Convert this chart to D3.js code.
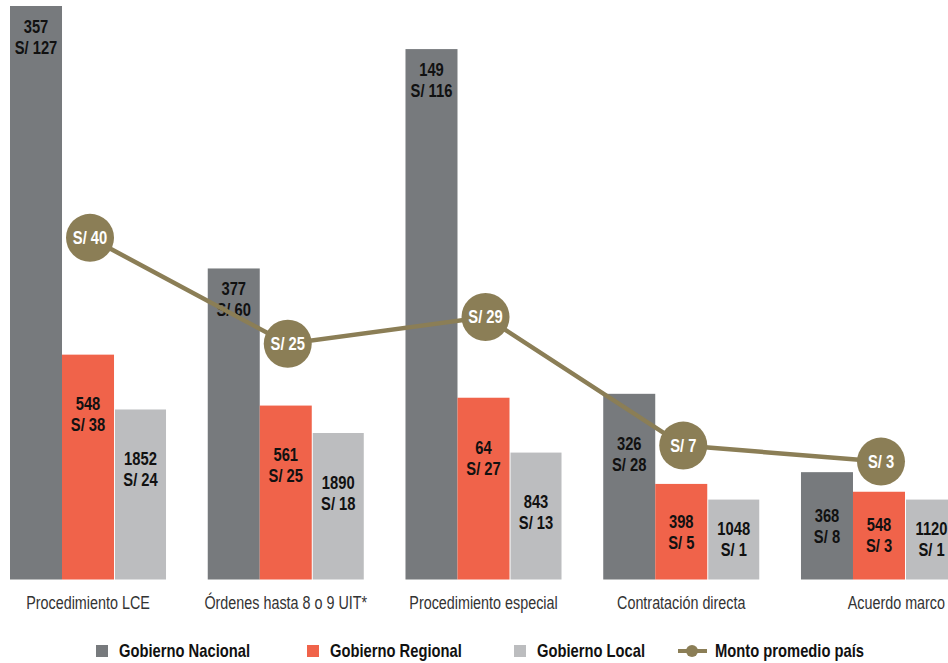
<!DOCTYPE html>
<html>
<head>
<meta charset="utf-8">
<script src="https://cdn.jsdelivr.net/npm/d3@7"></script>
<style>
  html, body { margin: 0; padding: 0; background: #fff; }
  svg { display: block; }
  text { font-family: "Liberation Sans", Arial, Helvetica, sans-serif; }
</style>
</head>
<body>
<svg id="chart" width="948" height="663"></svg>
<script>
// Procurement types (one group of bars each)
const categories = ["Procedimiento LCE", "Órdenes hasta 8 o 9 UIT*", "Procedimiento especial", "Contratación directa", "Acuerdo marco"];

// Government levels
const seriesNames = ["Gobierno Nacional", "Gobierno Regional", "Gobierno Local"];

// Number of entities per level and category
const countNacional = [357, 377, 149, 326, 368];
const countRegional = [548, 561, 64, 398, 548];
const countLocal    = [1852, 1890, 843, 1048, 1120];

// Average amount (S/) per level and category
const montoNacional = [127, 60, 116, 28, 8];
const montoRegional = [38, 25, 27, 5, 3];
const montoLocal    = [24, 18, 13, 1, 1];

// National average amount per category
const montoPais = [40, 25, 29, 7, 3];

const lineName = "Monto promedio país";

const colors = ["#777a7d", "#f0634a", "#bcbdbf"];
const lineColor = "#8b7e56";

const W = 948, H = 663;
const NARROW = 0.82;   // horizontal squeeze giving a condensed face
const svg = d3.select("#chart");

// condensed text helper: draws a text squeezed horizontally around its anchor
function ctext(parent, x, yy, str, opts = {}) {
  const t = parent.append("text")
    .attr("transform", `translate(${x},${yy}) scale(${NARROW},1)`)
    .attr("dy", "0.35em")
    .attr("text-anchor", opts.anchor || "middle")
    .attr("font-size", opts.size || 18)
    .attr("font-weight", opts.weight || "bold")
    .attr("fill", opts.fill || "#111")
    .text(str);
  return t;
}

const counts = [countNacional, countRegional, countLocal];
const montos = [montoNacional, montoRegional, montoLocal];

// group band across the plot (last group runs off the right edge)
const x0 = d3.scaleBand().domain(categories).range([10, 957]).paddingInner(0.211).paddingOuter(0);
const x1 = d3.scaleBand().domain(seriesNames).range([0, x0.bandwidth()]).padding(0);

// bar heights from the amount; baseline sits below zero so small amounts still show
const baseY = 579.5;
const y = d3.scaleLinear().domain([-19.4, 127]).range([baseY, 6]);

// separate scale for the national average line
const yLine = d3.scalePow().exponent(1.3).domain([0, 40]).range([469.6, 237.8]);

const barsData = [];
categories.forEach((c, i) => {
  seriesNames.forEach((s, j) => {
    barsData.push({ cat: c, ser: s, j, count: counts[j][i], monto: montos[j][i] });
  });
});

const gBars = svg.append("g");
gBars.selectAll("rect").data(barsData).enter().append("rect")
  .attr("x", d => x0(d.cat) + x1(d.ser) + (d.j === 2 ? 1 : 0))
  .attr("width", d => x1.bandwidth() - (d.j === 2 ? 1 : 0))
  .attr("y", d => y(d.monto))
  .attr("height", d => baseY - y(d.monto))
  .attr("fill", d => colors[d.j]);

// value labels inside bars: tall bars get them near the top, others nearer the middle
const gLab = svg.append("g");
barsData.forEach(d => {
  const top = y(d.monto);
  const h = baseY - top;
  const mid = h > 300 ? top + 31 : top + Math.min(h / 2, 60);
  const cx = x0(d.cat) + x1(d.ser) + x1.bandwidth() / 2 + (d.j === 2 ? 0.5 : 0);
  ctext(gLab, cx, mid - 10.5, d.count);
  ctext(gLab, cx, mid + 10.5, "S/ " + d.monto);
});

// national average line with labelled markers
const pts = categories.map((c, i) => ({ x: x0(c) + x0.bandwidth() / 2 + 2, y: yLine(montoPais[i]), v: montoPais[i] }));
svg.append("path")
  .attr("d", d3.line().x(d => d.x).y(d => d.y)(pts))
  .attr("fill", "none").attr("stroke", lineColor).attr("stroke-width", 4.5);
const gDots = svg.append("g");
gDots.selectAll("circle").data(pts).enter().append("circle")
  .attr("cx", d => d.x).attr("cy", d => d.y).attr("r", 24).attr("fill", lineColor);
pts.forEach(p => ctext(gDots, p.x, p.y, "S/ " + p.v, { fill: "#fff" }));

// category axis labels; the last one is set flush with the right edge
const gCat = svg.append("g");
categories.forEach((c, i) => {
  const last = i === categories.length - 1;
  const cx = last ? W - 3 : x0(c) + x0.bandwidth() / 2;
  ctext(gCat, cx, 603, c, { size: 17.5, weight: "normal", fill: "#333", anchor: last ? "end" : "middle" });
});

// legend
const gLeg = svg.append("g");
const legX = [96, 307, 514];
seriesNames.forEach((s, j) => {
  gLeg.append("rect").attr("x", legX[j]).attr("y", 645).attr("width", 12).attr("height", 12).attr("fill", colors[j]);
  ctext(gLeg, legX[j] + 23, 651, s, { anchor: "start" });
});
gLeg.append("line").attr("x1", 678).attr("x2", 707).attr("y1", 651).attr("y2", 651)
  .attr("stroke", lineColor).attr("stroke-width", 4);
gLeg.append("circle").attr("cx", 692).attr("cy", 651).attr("r", 6).attr("fill", lineColor);
ctext(gLeg, 715, 651, lineName, { anchor: "start" });
</script>
</body>
</html>
